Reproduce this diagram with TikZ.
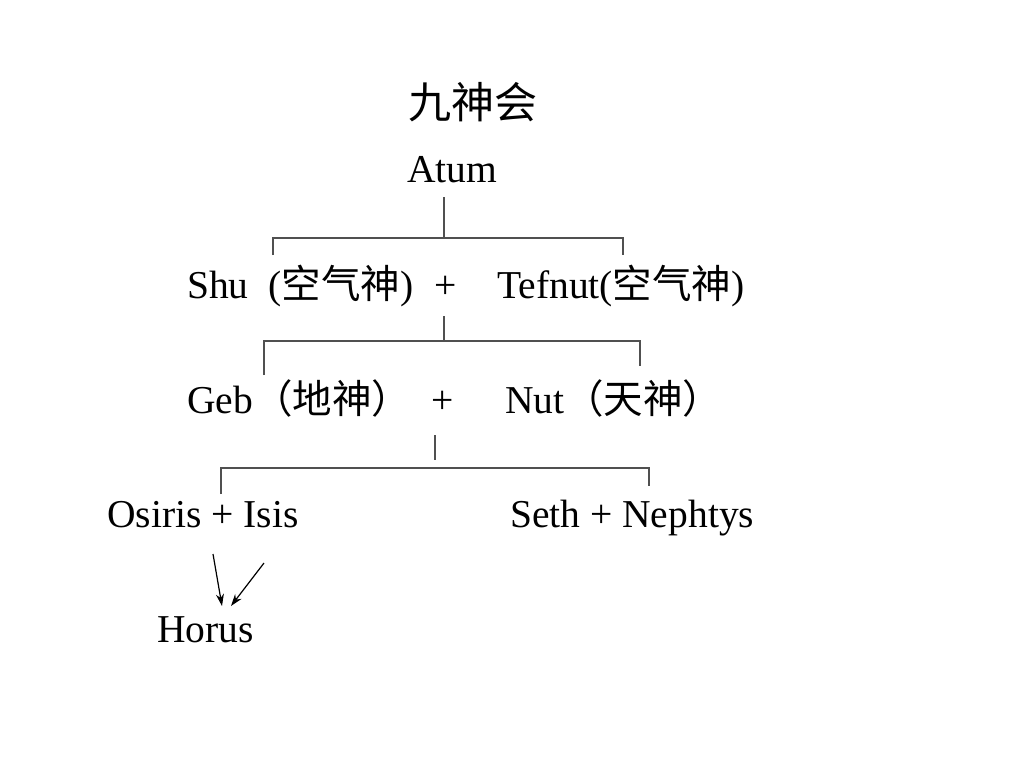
\documentclass[tikz,border=0pt]{standalone}
\usepackage{fontspec}
\setmainfont{Liberation Serif}
\newfontfamily\cjk{Noto Sans CJK SC}
\usetikzlibrary{arrows.meta}
\definecolor{linegray}{RGB}{80,80,80}

\begin{document}
\begin{tikzpicture}[x=1pt, y=-1pt,
    god/.style={font=\fontsize{39.5}{42}\selectfont, inner sep=0pt},
    link/.style={draw=linegray, line width=1.3pt},
    birth/.style={draw=black, line width=1.2pt, -{Stealth[length=12pt,width=8pt]}}]
        \useasboundingbox (0,0) rectangle (1024,768);
        % title and rows
        \node[font=\cjk\fontsize{43}{46}\selectfont, inner sep=0pt] (title) at (473,102) {九神会};
        \node[god, anchor=base] (atum) at (452,182) {Atum};
        \node[god, anchor=base west] (shu) at (187,298) {Shu\ \ ({\cjk 空气神})};
        \node[god, anchor=base] (plusA) at (446,298) {+};
        \node[god, anchor=base west] (tefnut) at (497,298) {Tefnut({\cjk 空气神})};
        \node[god, anchor=base west] (geb) at (187,413) {Geb{\cjk （地神）}};
        \node[god, anchor=base] (plusB) at (443,413) {+};
        \node[god, anchor=base west] (nut) at (505,413) {Nut{\cjk （天神）}};
        \node[god, anchor=base west] (osiris) at (107,527) {Osiris + Isis};
        \node[god, anchor=base west] (seth) at (510,527) {Seth + Nephtys};
        \node[god, anchor=base west] (horus) at (157,642) {Horus};
        % brackets
        \coordinate (atumdown) at (444,197);
        \coordinate (joinA) at (444,238);
        \coordinate (shuup) at (273,255);
        \coordinate (tefup) at (623,255);
        \draw[link] (atumdown) -- (joinA);
        \draw[link] (shuup) |- (joinA) -| (tefup);
        \coordinate (plusAdown) at (444,316);
        \coordinate (joinB) at (444,341);
        \coordinate (gebup) at (264,375);
        \coordinate (nutup) at (640,366);
        \draw[link] (plusAdown) -- (joinB);
        \draw[link] (gebup) |- (joinB) -| (nutup);
        \coordinate (plusBdown) at (435,435);
        \coordinate (joinC) at (435,468);
        \coordinate (osirisup) at (221,494);
        \coordinate (sethup) at (649,486);
        \draw[link] (plusBdown) -- (435,460);
        \draw[link] (osirisup) |- (joinC) -| (sethup);
        % parents to Horus
        \coordinate (fromosiris) at (213,554);
        \coordinate (fromisis) at (264,563);
        \coordinate (tohorusA) at (222,606);
        \coordinate (tohorusB) at (231,606);
        \draw[birth] (fromosiris) -- (tohorusA);
        \draw[birth] (fromisis) -- (tohorusB);
    \end{tikzpicture}
\end{document}
